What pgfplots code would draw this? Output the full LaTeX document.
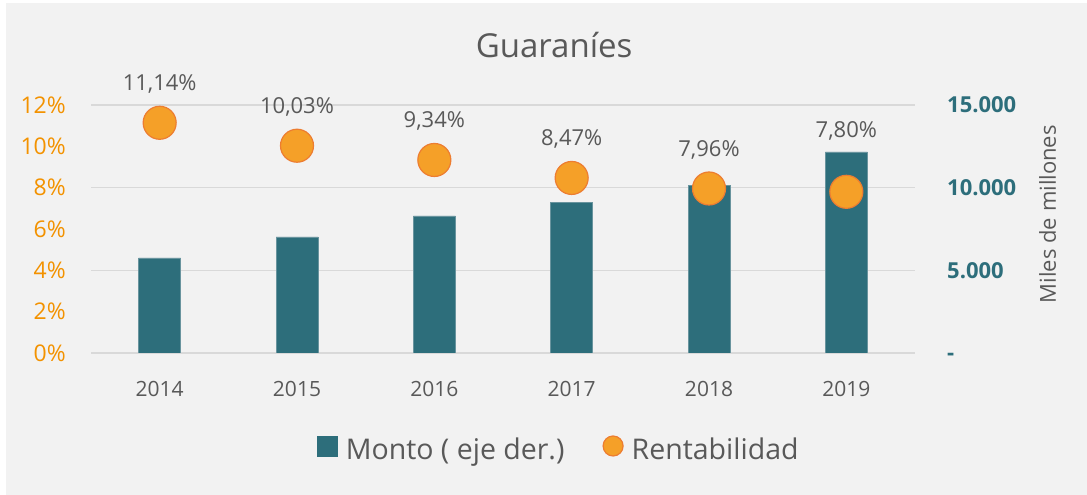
\documentclass[border=0pt]{standalone}
\usepackage{pgfplots}
\pgfplotsset{compat=1.18}
\usepackage{fontspec}
\setmainfont{Open Sans}
\definecolor{bg}{RGB}{242,242,242}
\definecolor{barcol}{RGB}{45,110,123}
\definecolor{baredge}{RGB}{105,148,158}
\definecolor{dotfill}{RGB}{245,160,40}
\definecolor{dotdraw}{RGB}{237,125,49}
\definecolor{txt}{RGB}{89,89,89}
\definecolor{orangetick}{RGB}{243,146,0}
\definecolor{gridc}{RGB}{217,217,217}
\begin{document}
\begin{tikzpicture}[x=1pt,y=1pt]
\useasboundingbox (0,0) rectangle (1087,495);
\fill[white] (0,0) rectangle (1087,495);
\fill[bg] (6,0) rectangle (1087,492);
% right axis: bars
\begin{axis}[
  at={(91pt,142pt)}, anchor=south west,
  scale only axis, width=824pt, height=248pt,
  xmin=-0.5, xmax=5.5, ymin=0, ymax=15000,
  scaled y ticks=false,
  axis line style={draw=none},
  major tick length=0pt,
  xtick={0,1,2,3,4,5},
  xticklabels={2014,2015,2016,2017,2018,2019},
  xticklabel style={anchor=base, inner sep=0pt, yshift=-44pt, font=\fontsize{21}{25}\selectfont, text=txt},
  ytick={0,5000,10000,15000},
  yticklabels={-,5.000,10.000,15.000},
  yticklabel pos=right,
  yticklabel style={anchor=base west, inner sep=0pt, xshift=32pt, yshift=-7.9pt, font=\fontsize{22}{26}\selectfont\bfseries, text=barcol},
  ymajorgrids, grid style={gridc, line width=1.5pt},
  ylabel={Miles de millones},
  every axis y label/.style={at={(axis description cs:1.161,0.56)}, anchor=center, rotate=90, font=\fontsize{22}{26}\selectfont, text=txt},
]
\addplot[ybar, bar width=42pt, fill=barcol, draw=baredge, line width=0.6pt]
  coordinates {(0,5750) (1,7020) (2,8290) (3,9130) (4,10160) (5,12160)};
\end{axis}
% left axis: rentabilidad
\begin{axis}[
  at={(91pt,142pt)}, anchor=south west,
  scale only axis, width=824pt, height=248pt,
  xmin=-0.5, xmax=5.5, ymin=0, ymax=12,
  axis line style={draw=none},
  major tick length=0pt,
  clip=false,
  xtick=\empty,
  ytick={0,2,4,6,8,10,12},
  yticklabels={0\%,2\%,4\%,6\%,8\%,10\%,12\%},
  yticklabel style={anchor=base east, inner sep=0pt, xshift=-25pt, yshift=-8.2pt, font=\fontsize{23}{27}\selectfont, text=orangetick},
  title={Guaraníes},
  title style={at={(axis description cs:0.562,1.169)}, anchor=base, inner sep=0pt, font=\fontsize{33}{40}\selectfont, text=txt},
  legend columns=2,
  legend style={at={(axis description cs:0.568,-0.387)}, anchor=center, draw=none, fill=none,
    font=\fontsize{28.5}{34}\selectfont, text=txt,
    /tikz/every odd column/.append style={column sep=6pt},
    /tikz/every even column/.append style={column sep=36pt}},
]
\addlegendimage{legend image code/.code={\fill[barcol] (0pt,-7pt) rectangle (20pt,13pt);}}
\addlegendentry{Monto ( eje der.)}
\addlegendimage{legend image code/.code={\filldraw[fill=dotfill, draw=dotdraw, line width=1.2pt] (10pt,3pt) circle (10pt);}}
\addlegendentry{Rentabilidad}
\addplot[only marks, mark=*, mark size=16.5pt,
  mark options={fill=dotfill, draw=dotdraw, line width=1.2pt},
  nodes near coords, point meta=explicit symbolic,
  visualization depends on={\thisrow{s} \as \myshift},
  every node near coord/.append style={anchor=base, inner sep=0pt, yshift=\myshift pt, font=\fontsize{22}{26}\selectfont, text=txt},
  forget plot]
  table[x=x, y=y, meta=lab] {
x y s lab
0 11.14 32 11,14\%
1 10.03 32 10,03\%
2 9.34 32 9,34\%
3 8.47 32 8,47\%
4 7.96 32 7,96\%
5 7.80 54 7,80\%
};
\end{axis}
\end{tikzpicture}
\end{document}
